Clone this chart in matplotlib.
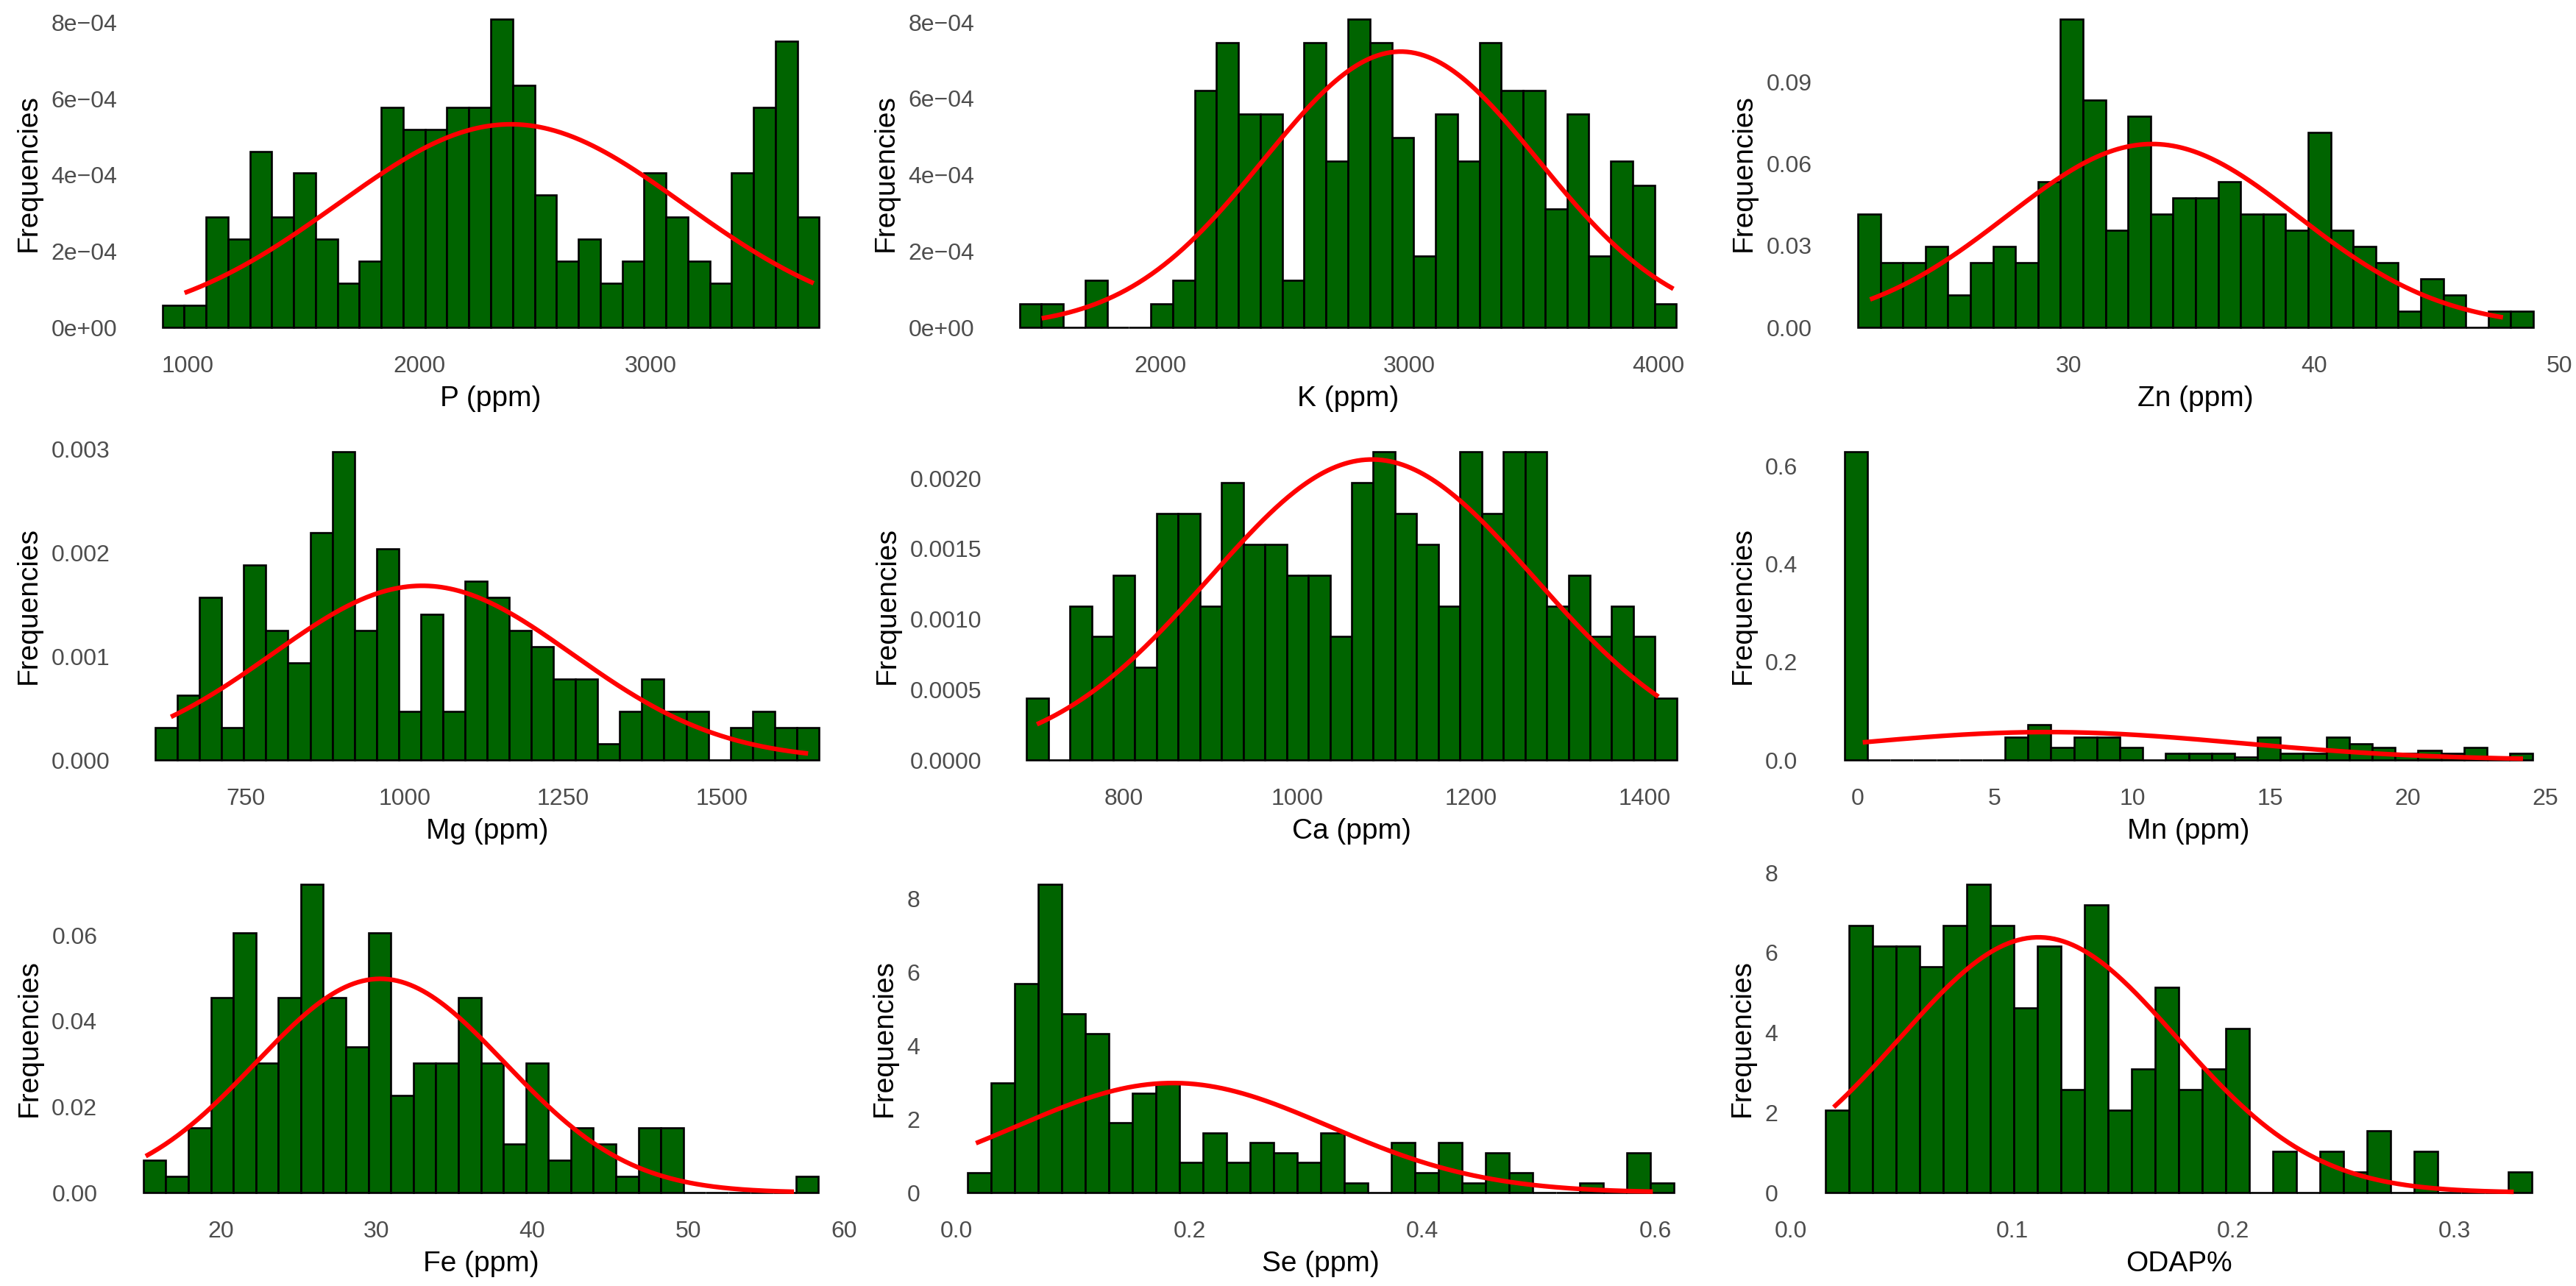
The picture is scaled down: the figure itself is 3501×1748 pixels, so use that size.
import matplotlib.pyplot as plt
import numpy as np

plt.rcParams['font.family'] = ['Liberation Sans', 'DejaVu Sans']

W, H = 3501, 1748

# histogram counts (30 bins each)
p_counts = [1, 1, 5, 4, 8, 5, 7, 4, 2, 3, 10, 9, 9, 10, 10, 14, 11, 6, 3, 4, 2, 3, 7, 5, 3, 2, 7, 10, 13, 5]
k_counts = [1, 1, 0, 2, 0, 0, 1, 2, 10, 12, 9, 9, 2, 12, 7, 13, 12, 8, 3, 9, 7, 12, 10, 10, 5, 9, 3, 7, 6, 1]
zn_counts = [7, 4, 4, 5, 2, 4, 5, 4, 9, 19, 14, 6, 13, 7, 8, 8, 9, 7, 7, 6, 12, 6, 5, 4, 1, 3, 2, 0, 1, 1]
mg_counts = [2, 4, 10, 2, 12, 8, 6, 14, 19, 8, 13, 3, 9, 3, 11, 10, 8, 7, 5, 5, 1, 3, 5, 3, 3, 0, 2, 3, 2, 2]
ca_counts = [2, 0, 5, 4, 6, 3, 8, 8, 5, 9, 7, 7, 6, 6, 4, 9, 10, 8, 7, 5, 10, 8, 10, 10, 5, 6, 4, 5, 4, 2]
mn_counts = [96, 0, 0, 0, 0, 0, 0, 7, 11, 4, 7, 7, 4, 0, 2, 2, 2, 1, 7, 2, 2, 7, 5, 4, 2, 3, 2, 4, 0, 2]
fe_counts = [2, 1, 4, 12, 16, 8, 12, 19, 12, 9, 16, 6, 8, 8, 12, 8, 3, 8, 2, 4, 3, 1, 4, 4, 0, 0, 0, 0, 0, 1]
se_counts = [2, 11, 21, 31, 18, 16, 7, 10, 11, 3, 6, 3, 5, 4, 3, 6, 1, 0, 5, 2, 5, 1, 4, 2, 0, 0, 1, 0, 4, 1]
odap_counts = [4, 13, 12, 12, 11, 13, 15, 13, 9, 12, 5, 14, 4, 6, 10, 5, 6, 8, 0, 2, 0, 2, 1, 3, 0, 2, 0, 0, 0, 1]

# outer edges of the 30 bins
p_range = (892, 3727)
k_range = (1436, 4074)
zn_range = (21.40, 48.94)
mg_range = (607.4, 1653)
ca_range = (688.1, 1437.1)
mn_range = (-0.465, 24.556)
fe_range = (15.05, 58.36)
se_range = (0.0095, 0.6157)
odap_range = (0.0158, 0.3348)

# fitted normal curve: mean, sd and x span of the red line
p_fit = (2396, 748, 988, 3703)
k_fit = (2967, 552, 1525, 4062)
zn_fit = (33.4, 5.93, 21.9, 47.7)
mg_fit = (1028, 237, 632, 1636)
ca_fit = (1086, 187, 700, 1416)
mn_fit = (6.9, 7.0, 0.2, 24.2)
fe_fit = (30.25, 8.0, 15.2, 56.8)
se_fit = (0.1857, 0.1339, 0.0167, 0.5976)
odap_fit = (0.112, 0.0625, 0.0195, 0.3266)

labels = ['P (ppm)', 'K (ppm)', 'Zn (ppm)', 'Mg (ppm)', 'Ca (ppm)', 'Mn (ppm)',
          'Fe (ppm)', 'Se (ppm)', 'ODAP%']

sci = ['0e+00', '2e\u221204', '4e\u221204', '6e\u221204', '8e\u221204']
yticks = [
    ([0, 2e-4, 4e-4, 6e-4, 8e-4], sci),
    ([0, 2e-4, 4e-4, 6e-4, 8e-4], sci),
    ([0, 0.03, 0.06, 0.09], ['0.00', '0.03', '0.06', '0.09']),
    ([0, 0.001, 0.002, 0.003], ['0.000', '0.001', '0.002', '0.003']),
    ([0, 0.0005, 0.001, 0.0015, 0.002], ['0.0000', '0.0005', '0.0010', '0.0015', '0.0020']),
    ([0, 0.2, 0.4, 0.6], ['0.0', '0.2', '0.4', '0.6']),
    ([0, 0.02, 0.04, 0.06], ['0.00', '0.02', '0.04', '0.06']),
    ([0, 2, 4, 6, 8], ['0', '2', '4', '6', '8']),
    ([0, 2, 4, 6, 8], ['0', '2', '4', '6', '8']),
]
xticks = [
    ([1000, 2000, 3000], ['1000', '2000', '3000']),
    ([2000, 3000, 4000], ['2000', '3000', '4000']),
    ([30, 40, 50], ['30', '40', '50']),
    ([750, 1000, 1250, 1500], ['750', '1000', '1250', '1500']),
    ([800, 1000, 1200, 1400], ['800', '1000', '1200', '1400']),
    ([0, 5, 10, 15, 20, 25], ['0', '5', '10', '15', '20', '25']),
    ([20, 30, 40, 50, 60], ['20', '30', '40', '50', '60']),
    ([0, 0.2, 0.4, 0.6], ['0.0', '0.2', '0.4', '0.6']),
    ([0, 0.1, 0.2, 0.3], ['0.0', '0.1', '0.2', '0.3']),
]

counts_all = [p_counts, k_counts, zn_counts, mg_counts, ca_counts, mn_counts, fe_counts, se_counts, odap_counts]
ranges_all = [p_range, k_range, zn_range, mg_range, ca_range, mn_range, fe_range, se_range, odap_range]
fits_all = [p_fit, k_fit, zn_fit, mg_fit, ca_fit, mn_fit, fe_fit, se_fit, odap_fit]

# panel placement in pixels
lefts = [[176, 1341, 2479], [166, 1351, 2460], [149, 1267, 2433]]
rights = [1158, 2323, 3489]
tops = [5, 593, 1181]
ph = 461

fig = plt.figure(figsize=(W / 100, H / 100), dpi=100)

for i in range(9):
    r, c = divmod(i, 3)
    l, rt, t = lefts[r][c], rights[c], tops[r]
    ax = fig.add_axes([l / W, 1 - (t + ph) / H, (rt - l) / W, ph / H])

    counts = np.array(counts_all[i], dtype=float)
    lo, hi = ranges_all[i]
    edges = np.linspace(lo, hi, len(counts) + 1)
    bw = edges[1] - edges[0]
    dens = counts / (counts.sum() * bw)
    ax.bar(edges[:-1], dens, width=bw, align='edge', color='#006400',
           edgecolor='black', linewidth=1.9, zorder=2)

    mu, sd, x0, x1 = fits_all[i]
    xs = np.linspace(x0, x1, 300)
    ys = np.exp(-0.5 * ((xs - mu) / sd) ** 2) / (sd * np.sqrt(2 * np.pi))
    ax.plot(xs, ys, color='red', linewidth=4.5, zorder=3, solid_capstyle='butt')

    xpad = 0.05 * (hi - lo)
    ax.set_xlim(lo - xpad, hi + xpad)
    top = max(dens.max(), ys.max())
    ax.set_ylim(-0.05 * top, 1.05 * top)

    ax.set_xticks(xticks[i][0])
    ax.set_xticklabels(xticks[i][1])
    ax.set_yticks(yticks[i][0])
    ax.set_yticklabels(yticks[i][1])
    ax.tick_params(length=0, labelsize=23, labelcolor='#4D4D4D')
    ax.tick_params(axis='x', pad=12)
    ax.tick_params(axis='y', pad=12)
    for s in ax.spines.values():
        s.set_visible(False)

    ax.set_xlabel(labels[i], fontsize=28, labelpad=8)
    ax.set_ylabel('Frequencies', fontsize=28, labelpad=9)

fig.savefig('out.png', dpi=100, facecolor='white')
